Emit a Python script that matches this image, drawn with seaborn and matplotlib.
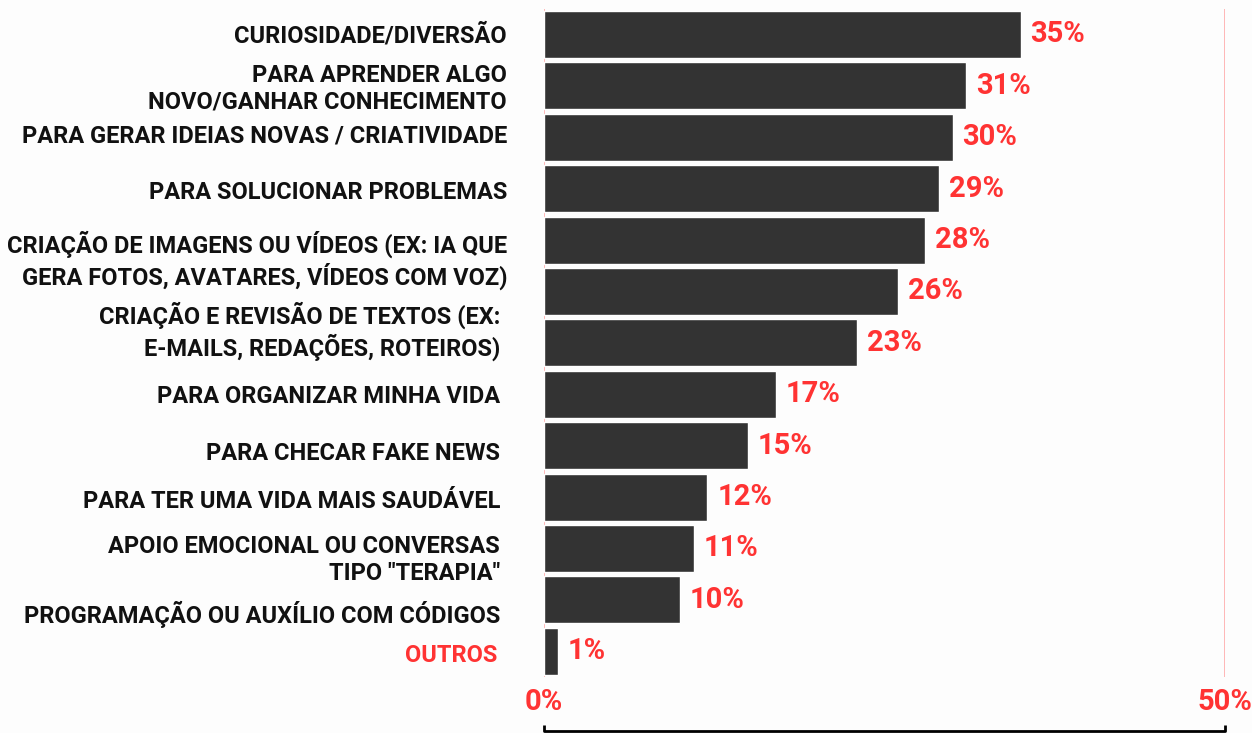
import matplotlib
matplotlib.use('Agg')
import matplotlib.pyplot as plt
import seaborn as sns
from matplotlib.transforms import blended_transform_factory

sns.set_theme(style='white')

# one bar (26%) has no label of its own in the source picture
categories = [
    'CURIOSIDADE/DIVERSÃO',
    'PARA APRENDER ALGO\nNOVO/GANHAR CONHECIMENTO',
    'PARA GERAR IDEIAS NOVAS / CRIATIVIDADE',
    'PARA SOLUCIONAR PROBLEMAS',
    'CRIAÇÃO DE IMAGENS OU VÍDEOS (EX: IA QUE\nGERA FOTOS, AVATARES, VÍDEOS COM VOZ)',
    '',
    'CRIAÇÃO E REVISÃO DE TEXTOS (EX:\nE-MAILS, REDAÇÕES, ROTEIROS)',
    'PARA ORGANIZAR MINHA VIDA',
    'PARA CHECAR FAKE NEWS',
    'PARA TER UMA VIDA MAIS SAUDÁVEL',
    'APOIO EMOCIONAL OU CONVERSAS\nTIPO "TERAPIA"',
    'PROGRAMAÇÃO OU AUXÍLIO COM CÓDIGOS',
    'OUTROS',
]
values = [35, 31, 30, 29, 28, 26, 23, 17, 15, 12, 11, 10, 1]
value_labels = [f'{v}%' for v in values]

tick_values = [0, 50]
tick_labels = ['0%', '50%']

RED = '#ff3333'
BAR = '#333333'
BG = '#fdfdfd'

# small nudges (pixels) so the labels sit where they do in the source
label_dy = [1.5, 3, -1, 4, 20, 0, -12, 2, 8, 4, 11.5, 15, 4]
label_dx = [37, 37, 37, 37, 37, 44, 44, 44, 44, 44, 44, 44, 47]

plt.rcParams['font.family'] = ['Roboto', 'DejaVu Sans']

fig = plt.figure(figsize=(12.52, 7.33), dpi=100)
fig.patch.set_facecolor(BG)
ax = fig.add_axes([544 / 1252, 1 - 677 / 733, 681 / 1252, 668.2 / 733])
ax.set_facecolor(BG)

sns.barplot(x=values, y=categories, orient='h', color=BAR, saturation=1,
            width=0.915, ax=ax)
ax.set_xlim(0, 50)
ax.set_ylim(len(values) - 0.5, -0.5)

ax.bar_label(ax.containers[0], labels=value_labels, padding=7, color=RED,
             fontsize=21, fontweight='bold')

# thin reference lines at 0 and 50
for xv in tick_values:
    ax.axvline(xv, color='#ffa3a3', lw=1.1, zorder=0)

sns.despine(ax=ax, left=True, bottom=True)
ax.set_xticks(tick_values)
ax.set_xticklabels(tick_labels, color=RED, fontsize=21, fontweight='bold')
ax.tick_params(axis='x', length=0, pad=8)
ax.set_yticks([])
ax.set_xlabel('')
ax.set_ylabel('')

for i, lab in enumerate(categories):
    ax.annotate(lab, xy=(0, i), xycoords=('axes fraction', 'data'),
                xytext=(-label_dx[i], -label_dy[i]), textcoords='offset pixels',
                ha='right', va='center', multialignment='right',
                fontsize=17, fontweight='bold',
                color=RED if lab == 'OUTROS' else '#111111', linespacing=1.2)

# bracket under the axis
tr = blended_transform_factory(ax.transData, fig.transFigure)
ax.plot([0, 0, 50, 50], [8 / 733, 2.5 / 733, 2.5 / 733, 8 / 733], color='black',
        lw=2, transform=tr, clip_on=False, solid_capstyle='butt')

fig.savefig('out.png', dpi=100, facecolor=BG)
